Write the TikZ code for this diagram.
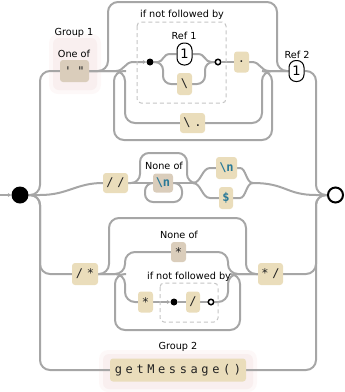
\documentclass[tikz,border=0pt]{standalone}
\usepackage{fontspec}
\setmainfont{DejaVu Sans}
\setmonofont{DejaVu Sans Mono}
\usetikzlibrary{arrows.meta}
\pgfdeclarelayer{glowlayer}
\pgfdeclarelayer{raillayer}
\pgfsetlayers{glowlayer,raillayer,main}
\definecolor{railc}{HTML}{A6A6A6}
\definecolor{litfill}{HTML}{EADDBB}
\definecolor{clsfill}{HTML}{DACDBB}
\definecolor{glow}{HTML}{F9EFEF}
\definecolor{glowout}{HTML}{FDF8F8}
\definecolor{esc}{HTML}{2B7A98}
\definecolor{dashc}{HTML}{C4C4C4}
\definecolor{littext}{HTML}{222222}
\newcommand\lk{\kern3.6pt}
\tikzset{
  rail/.style={draw=railc, line width=2pt},
  litbox/.style={fill=litfill, rounded corners=3pt, inner sep=0pt, text=littext,
     font=\ttfamily\fontsize{12}{12}\selectfont},
  clsbox/.style={litbox, fill=clsfill},
  refbox/.style={draw=black, line width=1pt, fill=white, rounded corners=7pt,
     minimum width=15pt, minimum height=22pt, inner sep=0pt,
     font=\fontsize{13}{13}\selectfont},
  lbl/.style={inner sep=0pt, font=\fontsize{9.7}{11}\selectfont},
  dashbox/.style={draw=dashc, line width=1pt, dash pattern=on 4pt off 3pt, rounded corners=4pt},
  indot/.style={circle, fill=black, minimum size=7pt, inner sep=0pt},
  outdot/.style={circle, draw=black, line width=1.5pt, fill=white, minimum size=5.5pt, inner sep=0pt},
  tip/.style={-{Stealth[length=3.5pt,width=4pt]}}
}
\begin{document}
\begin{tikzpicture}[x=1pt,y=-1pt]
\useasboundingbox (0,0) rectangle (345,392);
% group highlights
\begin{pgfonlayer}{glowlayer}
\fill[glowout, rounded corners=9pt] (49,34) rectangle (101,94);
\fill[glow, rounded corners=6pt] (53,38) rectangle (97,90);
\fill[glowout, rounded corners=9pt] (99,350) rectangle (257,392);
\fill[glow, rounded corners=6pt] (103,354) rectangle (253,389);
\end{pgfonlayer}
% lookahead boxes
\draw[dashbox] (137,22) rectangle (226,103);
\draw[dashbox] (160,283) rectangle (218,322);
% terminals
\node[circle, fill=black, minimum size=17pt, inner sep=0pt] (start) at (20,195) {};
\node[circle, draw=black, line width=2pt, fill=white, minimum size=15pt, inner sep=0pt] (end) at (335.5,195) {};
% boxes
\node[clsbox, minimum width=29pt, minimum height=22pt] (g1) at (74.5,71) {'\kern6pt"};
\node[indot] (la1in) at (150,62) {};
\node[outdot] (la1out) at (218,62) {};
\node[refbox] (ref1) at (184.5,54) {1};
\node[litbox, minimum width=15pt, minimum height=22pt] (bsl) at (184.5,84) {\textbackslash};
\node[litbox, minimum width=15pt, minimum height=21pt] (dot) at (241.5,62) {.};
\node[litbox, minimum width=25pt, minimum height=20pt] (bs) at (192.5,123) {\textbackslash\lk.};
\node[refbox, minimum height=21pt] (ref2) at (296.5,71) {1};
\node[litbox, minimum width=25pt, minimum height=20pt] (dsl) at (115.5,183) {/\lk/};
\node[clsbox, minimum width=20pt, minimum height=19pt] (nl1) at (163,183) {\textcolor{esc}{\bfseries\textbackslash n}};
\node[litbox, minimum width=21pt, minimum height=22pt] (nl2) at (226.5,168) {\textcolor{esc}{\bfseries\textbackslash n}};
\node[litbox, minimum width=14pt, minimum height=22pt] (dol) at (226,198) {\textcolor{esc}{\bfseries\$}};
\node[litbox, minimum width=26pt, minimum height=22pt] (sls) at (85,274) {/\lk*};
\node[clsbox, minimum width=15pt, minimum height=20pt] (nst) at (178.5,252) {*};
\node[litbox, minimum width=15pt, minimum height=21pt] (st1) at (145.5,302) {*};
\node[indot] (la2in) at (174,302) {};
\node[litbox, minimum width=14pt, minimum height=21pt] (slash) at (193,302) {/};
\node[outdot] (la2out) at (211,302) {};
\node[litbox, minimum width=25pt, minimum height=22pt] (sts) at (270.5,274) {*\lk/};
\node[litbox, minimum width=136pt, minimum height=23pt] (gm) at (178,370)
  {g\lk e\lk t\lk M\lk e\lk s\lk s\lk a\lk g\lk e\lk (\lk)};
% junction coordinates
\coordinate (altL) at (193,183);
\coordinate (altR) at (253,183);
% labels
\node[lbl] (lg1) at (74,33) {Group 1};
\node[lbl] (lone) at (74,54) {One of};
\node[lbl] (lnf1) at (182,15) {if not followed by};
\node[lbl] (lr1) at (184,36) {Ref 1};
\node[lbl] (lr2) at (297,55) {Ref 2};
\node[lbl] (lno1) at (164,166) {None of};
\node[lbl] (lno2) at (179,235) {None of};
\node[lbl] (lnf2) at (189,277) {if not followed by};
\node[lbl] (lg2) at (178,347) {Group 2};
% rails
\begin{pgfonlayer}{raillayer}
\draw[rail, tip] (0,195) -- (start.west);
\draw[rail, rounded corners=10pt] (start.east) -- (40,195) -- (40,71) -- (g1.west);
\draw[rail] (start.east) -- (40,195) .. controls (68,195) and (76,183) .. (dsl.west);
\draw[rail, rounded corners=10pt] (start.east) -- (40,195) -- (40,274) -- (sls.west);
\draw[rail, rounded corners=10pt] (start.east) -- (40,195) -- (40,370) -- (gm.west);
\draw[rail, rounded corners=10pt] (ref2.east) -- (316,71) -- (316,195) -- (end.west);
\draw[rail] (altR) .. controls (286,183) and (286,195) .. (316,195) -- (end.west);
\draw[rail, rounded corners=10pt] (sts.east) -- (316,274) -- (316,195) -- (end.west);
\draw[rail, rounded corners=10pt] (gm.east) -- (316,370) -- (316,195) -- (end.west);
% top section
\draw[rail, rounded corners=10pt] (g1.east) -- (108,71) -- (108,2) -- (277,2) -- (277,71) -- (ref2.west);
\draw[rail, tip] (g1.east) -- (116,71) .. controls (124,71) and (125,62) .. (133,62) -- (la1in.west);
\draw[rail, rounded corners=10pt] (g1.east) -- (125,71) -- (125,123) -- (bs.west);
\draw[rail, rounded corners=10pt] (bs.east) -- (262,123) -- (262,71) -- (ref2.west);
\draw[rail] (la1out.east) -- (dot.west);
\draw[rail] (dot.east) -- (252,62) .. controls (260,62) and (261,71) .. (269,71) -- (ref2.west);
\draw[rail, rounded corners=10pt] (262,71) -- (272,71) -- (272,140) -- (114,140) -- (114,71) -- (126,71);
\draw[rail] (la1in.east) -- (158,62) .. controls (163,62) and (163,54) .. (170,54) -- (ref1.west);
\draw[rail] (ref1.east) -- (198,54) .. controls (205,54) and (205,62) .. (211,62) -- (la1out.west);
\draw[rail, rounded corners=8pt] (la1in.east) -- (163,62) -- (163,84) -- (bsl.west);
\draw[rail, rounded corners=8pt] (bsl.east) -- (205,84) -- (205,62) -- (la1out.west);
% middle section
\draw[rail, rounded corners=9pt] (dsl.east) -- (140,183) -- (140,153) -- (187,153) -- (187,183) -- (altL);
\draw[rail] (dsl.east) -- (nl1.west);
\draw[rail] (nl1.east) -- (altL);
\draw[rail, rounded corners=8pt] (nl1.east) -- (182,183) -- (182,202) -- (145,202) -- (145,183) -- (nl1.west);
\draw[rail] (altL) .. controls (201,183) and (202,168) .. (210,168) -- (nl2.west);
\draw[rail] (altL) .. controls (201,183) and (202,198) .. (210,198) -- (dol.west);
\draw[rail] (nl2.east) -- (240,168) .. controls (246,168) and (246,183) .. (altR);
\draw[rail] (dol.east) -- (240,198) .. controls (246,198) and (246,183) .. (altR);
% lower section
\draw[rail, rounded corners=10pt] (sls.east) -- (109,274) -- (109,218) -- (246,218) -- (246,274) -- (sts.west);
\draw[rail, rounded corners=10pt] (sls.east) -- (125,274) -- (125,252) -- (nst.west);
\draw[rail, rounded corners=10pt] (nst.east) -- (228,252) -- (228,274) -- (sts.west);
\draw[rail, rounded corners=10pt] (sls.east) -- (125,274) -- (125,302) -- (st1.west);
\draw[rail, tip] (st1.east) -- (la2in.west);
\draw[rail] (la2in.east) -- (slash.west);
\draw[rail] (slash.east) -- (la2out.west);
\draw[rail, rounded corners=10pt] (la2out.east) -- (228,302) -- (228,274) -- (sts.west);
\draw[rail, rounded corners=10pt] (230,274) -- (240,274) -- (240,330) -- (115,330) -- (115,274) -- (126,274);
\end{pgfonlayer}
\end{tikzpicture}
\end{document}
